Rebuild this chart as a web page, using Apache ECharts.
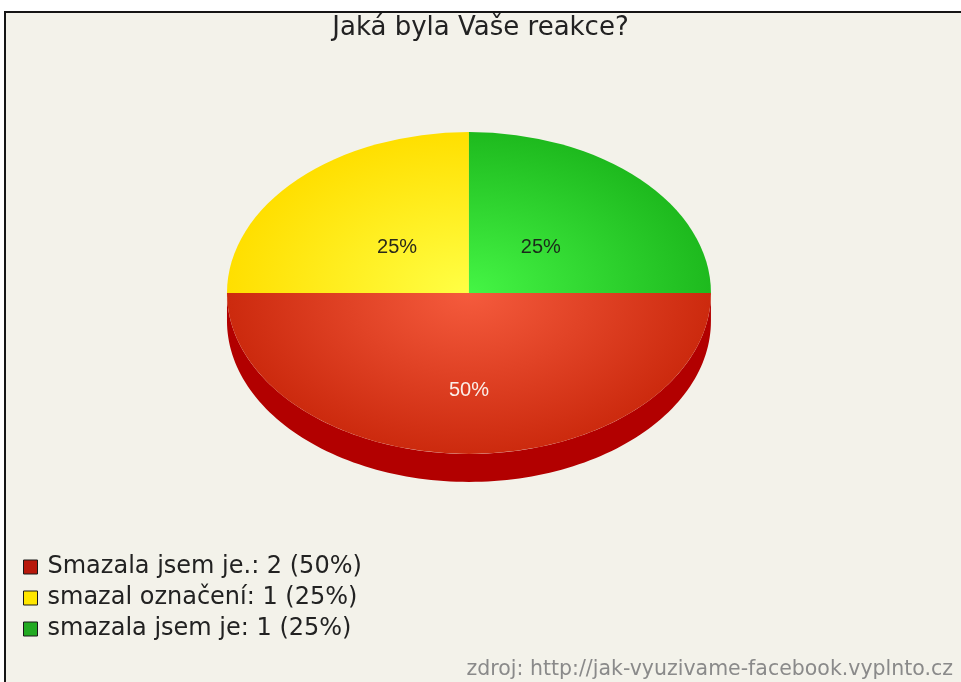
<!DOCTYPE html>
<html><head><meta charset="utf-8">
<script src="https://cdn.jsdelivr.net/npm/echarts@6/dist/echarts.min.js"></script>
<style>html,body{margin:0;padding:0;background:#fff}#c{width:961px;height:682px}</style>
</head><body><div id="c"></div>
<script>
const titleText = 'Jaká byla Vaše reakce?';
const sourceText = 'zdroj: http://jak-vyuzivame-facebook.vyplnto.cz';
const categories = ['Smazala jsem je.', 'smazal označení', 'smazala jsem je'];
const counts = [2, 1, 1];

const legendColors = ['#b8180c', '#ffe600', '#22aa22'];
const topColors = [['#f55b3d', '#cc2a0e'], ['#ffff45', '#ffdf00'], ['#45f545', '#1eba1e']];
const sideColors = ['#b20000', '#c8b000', '#148a14'];
const labelColors = ['#fbeee8', '#2a2a1a', '#1a2a1a'];

const total = counts.reduce((a, b) => a + b, 0);
const starts = counts.map((v, i) => counts.slice(0, i).reduce((a, b) => a + b, 0));

const PIE = {cx: 0.488, cy: 0.4296, rx: 0.2518, ryRatio: 0.665, depth: 28, labelR: 0.42};

function renderSlice(params, api) {
  const W = api.getWidth(), H = api.getHeight();
  const cx = W * PIE.cx, cy = H * PIE.cy, rx = W * PIE.rx, ry = rx * PIE.ryRatio;
  const i = params.seriesIndex;
  const s = api.value(0), v = api.value(1), t = api.value(2);
  const a0 = s / t * 2 * Math.PI, a1 = (s + v) / t * 2 * Math.PI;
  const children = [];
  const f0 = Math.max(a0, 0), f1 = Math.min(a1, Math.PI);
  if (f1 > f0) {
    const pts = [];
    const N = 120;
    for (let k = 0; k <= N; k++) { const th = f0 + (f1 - f0) * k / N; pts.push([cx + rx * Math.cos(th), cy + ry * Math.sin(th)]); }
    for (let k = N; k >= 0; k--) { const th = f0 + (f1 - f0) * k / N; pts.push([cx + rx * Math.cos(th), cy + PIE.depth + ry * Math.sin(th)]); }
    children.push({type: 'polygon', shape: {points: pts}, style: {fill: sideColors[i]}});
  }
  children.push({
    type: 'sector', x: cx, y: cy, scaleX: 1, scaleY: PIE.ryRatio,
    shape: {cx: 0, cy: 0, r: rx, r0: 0, startAngle: a0, endAngle: a1, clockwise: true},
    style: {fill: {type: 'radial', x: 0, y: 0, r: rx, global: true,
      colorStops: [{offset: 0, color: topColors[i][0]}, {offset: 1, color: topColors[i][1]}]}}
  });
  const mid = (a0 + a1) / 2;
  const lx = cx + rx * PIE.labelR * Math.cos(mid);
  let ly = cy + ry * PIE.labelR * Math.sin(mid);
  if (Math.sin(mid) > 0.01) ly += PIE.depth;
  children.push({type: 'text', x: lx, y: ly + 2, z2: 10,
    style: {text: Math.round(v / t * 100) + '%', fill: labelColors[i], font: '20px "Liberation Sans"', align: 'center', verticalAlign: 'middle'}});
  return {type: 'group', children};
}

const chart = echarts.init(document.getElementById('c'));
chart.setOption({
  backgroundColor: '#ffffff',
  animation: false,
  title: {text: titleText, left: 'center', top: 10,
    textStyle: {fontFamily: 'DejaVu Sans', fontSize: 26, fontWeight: 'normal', color: '#222'}},
  legend: {
    orient: 'vertical', left: 18, top: 550, itemWidth: 14, itemHeight: 14, itemGap: 7, icon: 'rect',
    data: categories, selectedMode: false,
    itemStyle: {borderColor: '#1a1a1a', borderWidth: 1},
    textStyle: {fontFamily: 'DejaVu Sans', fontSize: 24, color: '#222', padding: [0, 0, 0, 5]},
    formatter: name => {
      const i = categories.indexOf(name);
      return name + ': ' + counts[i] + ' (' + Math.round(counts[i] / total * 100) + '%)';
    }
  },
  graphic: {elements: [
    {type: 'rect', z: -100, silent: true, shape: {x: 5, y: 12, width: 980, height: 700},
      style: {fill: '#f3f2ea', stroke: '#151515', lineWidth: 2}},
    {type: 'text', z: 100, right: 8, bottom: 2, silent: true,
      style: {text: sourceText, font: '20.5px "DejaVu Sans"', fill: '#8a8a8a'}}
  ]},
  series: categories.map((name, i) => ({
    type: 'custom', name, coordinateSystem: 'none', renderItem: renderSlice, silent: true,
    itemStyle: {color: legendColors[i]},
    data: [[starts[i], counts[i], total]]
  }))
});
</script>
</body></html>
